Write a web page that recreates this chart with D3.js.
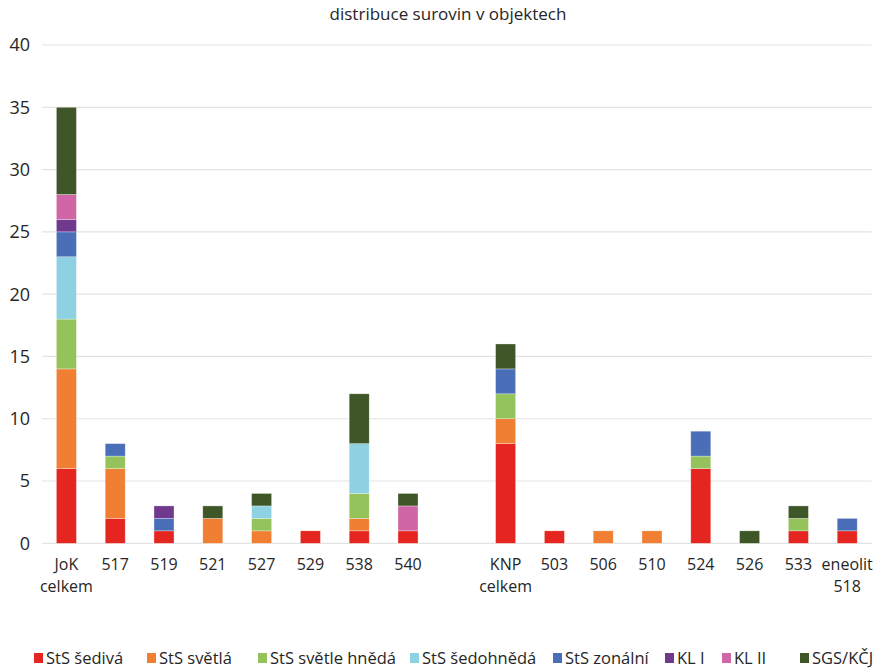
<!DOCTYPE html>
<html>
<head>
<meta charset="utf-8">
<script src="https://cdn.jsdelivr.net/npm/d3@7"></script>
<style>
  body { margin: 0; background: #fff; }
  text { font-family: "Open Sans", "Noto Sans", sans-serif; fill: #262626; }
</style>
</head>
<body>
<div id="chart"></div>
<script>
'use strict';

// Data
const categories = ['JoK celkem', '517', '519', '521', '527', '529', '538', '540', 'gap',
    'KNP celkem', '503', '506', '510', '524', '526', '533', 'eneolit 518'];
const seriesNames = ['StS šedivá', 'StS světlá', 'StS světle hnědá', 'StS šedohnědá',
    'StS zonální', 'KL I', 'KL II', 'SGS/KČJ'];
const stsSediva     = [6, 2, 1, 0, 0, 1, 1, 1, 0, 8, 1, 0, 0, 6, 0, 1, 1];
const stsSvetla     = [8, 4, 0, 2, 1, 0, 1, 0, 0, 2, 0, 1, 1, 0, 0, 0, 0];
const stsSvetleHneda= [4, 1, 0, 0, 1, 0, 2, 0, 0, 2, 0, 0, 0, 1, 0, 1, 0];
const stsSedohneda  = [5, 0, 0, 0, 1, 0, 4, 0, 0, 0, 0, 0, 0, 0, 0, 0, 0];
const stsZonalni    = [2, 1, 1, 0, 0, 0, 0, 0, 0, 2, 0, 0, 0, 2, 0, 0, 1];
const klI           = [1, 0, 1, 0, 0, 0, 0, 0, 0, 0, 0, 0, 0, 0, 0, 0, 0];
const klII          = [2, 0, 0, 0, 0, 0, 0, 2, 0, 0, 0, 0, 0, 0, 0, 0, 0];
const sgsKcj        = [7, 0, 0, 1, 1, 0, 4, 1, 0, 2, 0, 0, 0, 0, 1, 1, 0];
const yTicks = [0, 5, 10, 15, 20, 25, 30, 35, 40];
const colors = ['#e52620', '#f07f33', '#93c35a', '#8ed1e3', '#4a6fb8', '#6f3a8e', '#d166a6', '#3f5728'];

// Configs
const svgW = 882, svgH = 669;
const plotL = 42, plotR = 871.6;

const allSeries = [stsSediva, stsSvetla, stsSvetleHneda, stsSedohneda, stsZonalni, klI, klII, sgsKcj];
const table = categories.map((c, i) => {
    const row = {cat: c};
    seriesNames.forEach((s, j) => { row[s] = allSeries[j][i]; });
    return row;
});

const svg = d3.select('#chart').append('svg')
    .attr('width', svgW)
    .attr('height', svgH);

const x = d3.scaleBand().domain(categories).range([plotL, plotR]).paddingInner(0.59).paddingOuter(0.295);
const y = d3.scaleLinear().domain([0, 40]).range([543.3, 45]);
const color = d3.scaleOrdinal().domain(seriesNames).range(colors);

// Gridlines
svg.append('g').selectAll('line')
    .data(yTicks)
    .join('line')
    .attr('x1', plotL)
    .attr('x2', plotR)
    .attr('y1', d => y(d))
    .attr('y2', d => y(d))
    .attr('stroke', '#e3e3e3')
    .attr('stroke-width', 1.2);

// Y labels
svg.append('g').selectAll('text')
    .data(yTicks)
    .join('text')
    .attr('x', 30)
    .attr('y', d => y(d))
    .attr('dy', '0.36em')
    .attr('text-anchor', 'end')
    .style('font-size', '18px')
    .text(d => d);

// Stacks
const stack = d3.stack().keys(seriesNames)(table);
svg.append('g').selectAll('g')
    .data(stack)
    .join('g')
    .attr('fill', d => color(d.key))
    .selectAll('rect')
    .data(d => d.filter(p => p[1] > p[0]))
    .join('rect')
    .attr('x', d => x(d.data.cat))
    .attr('width', x.bandwidth())
    .attr('y', d => y(d[1]))
    .attr('height', d => y(d[0]) - y(d[1]))
    .attr('stroke', 'rgba(255,255,255,0.5)')
    .attr('stroke-width', 0.6);

// Category labels (one text per line)
const catLines = [];
categories.forEach(c => {
    if (c === 'gap') return;
    c.split(' ').forEach((w, k) => catLines.push({cat: c, word: w, line: k}));
});
svg.append('g').selectAll('text')
    .data(catLines)
    .join('text')
    .attr('x', d => x(d.cat) + x.bandwidth() / 2)
    .attr('y', d => 570 + d.line * 22)
    .attr('text-anchor', 'middle')
    .style('font-size', '16px')
    .text(d => d.word);

// Title
svg.append('text')
    .attr('x', 448)
    .attr('y', 20)
    .attr('text-anchor', 'middle')
    .style('font-size', '17px')
    .text('distribuce surovin v objektech');

// Legend
const legendX = [34, 147, 258, 410, 553, 665, 722, 800];
const legend = svg.append('g').selectAll('g')
    .data(seriesNames)
    .join('g')
    .attr('transform', (d, i) => `translate(${legendX[i]}, 658)`);
legend.append('rect')
    .attr('x', 0)
    .attr('y', -5)
    .attr('width', 9)
    .attr('height', 10)
    .attr('fill', d => color(d));
legend.append('text')
    .attr('x', 12)
    .attr('dy', '0.36em')
    .style('font-size', '16.5px')
    .text(d => d);
</script>
</body>
</html>
